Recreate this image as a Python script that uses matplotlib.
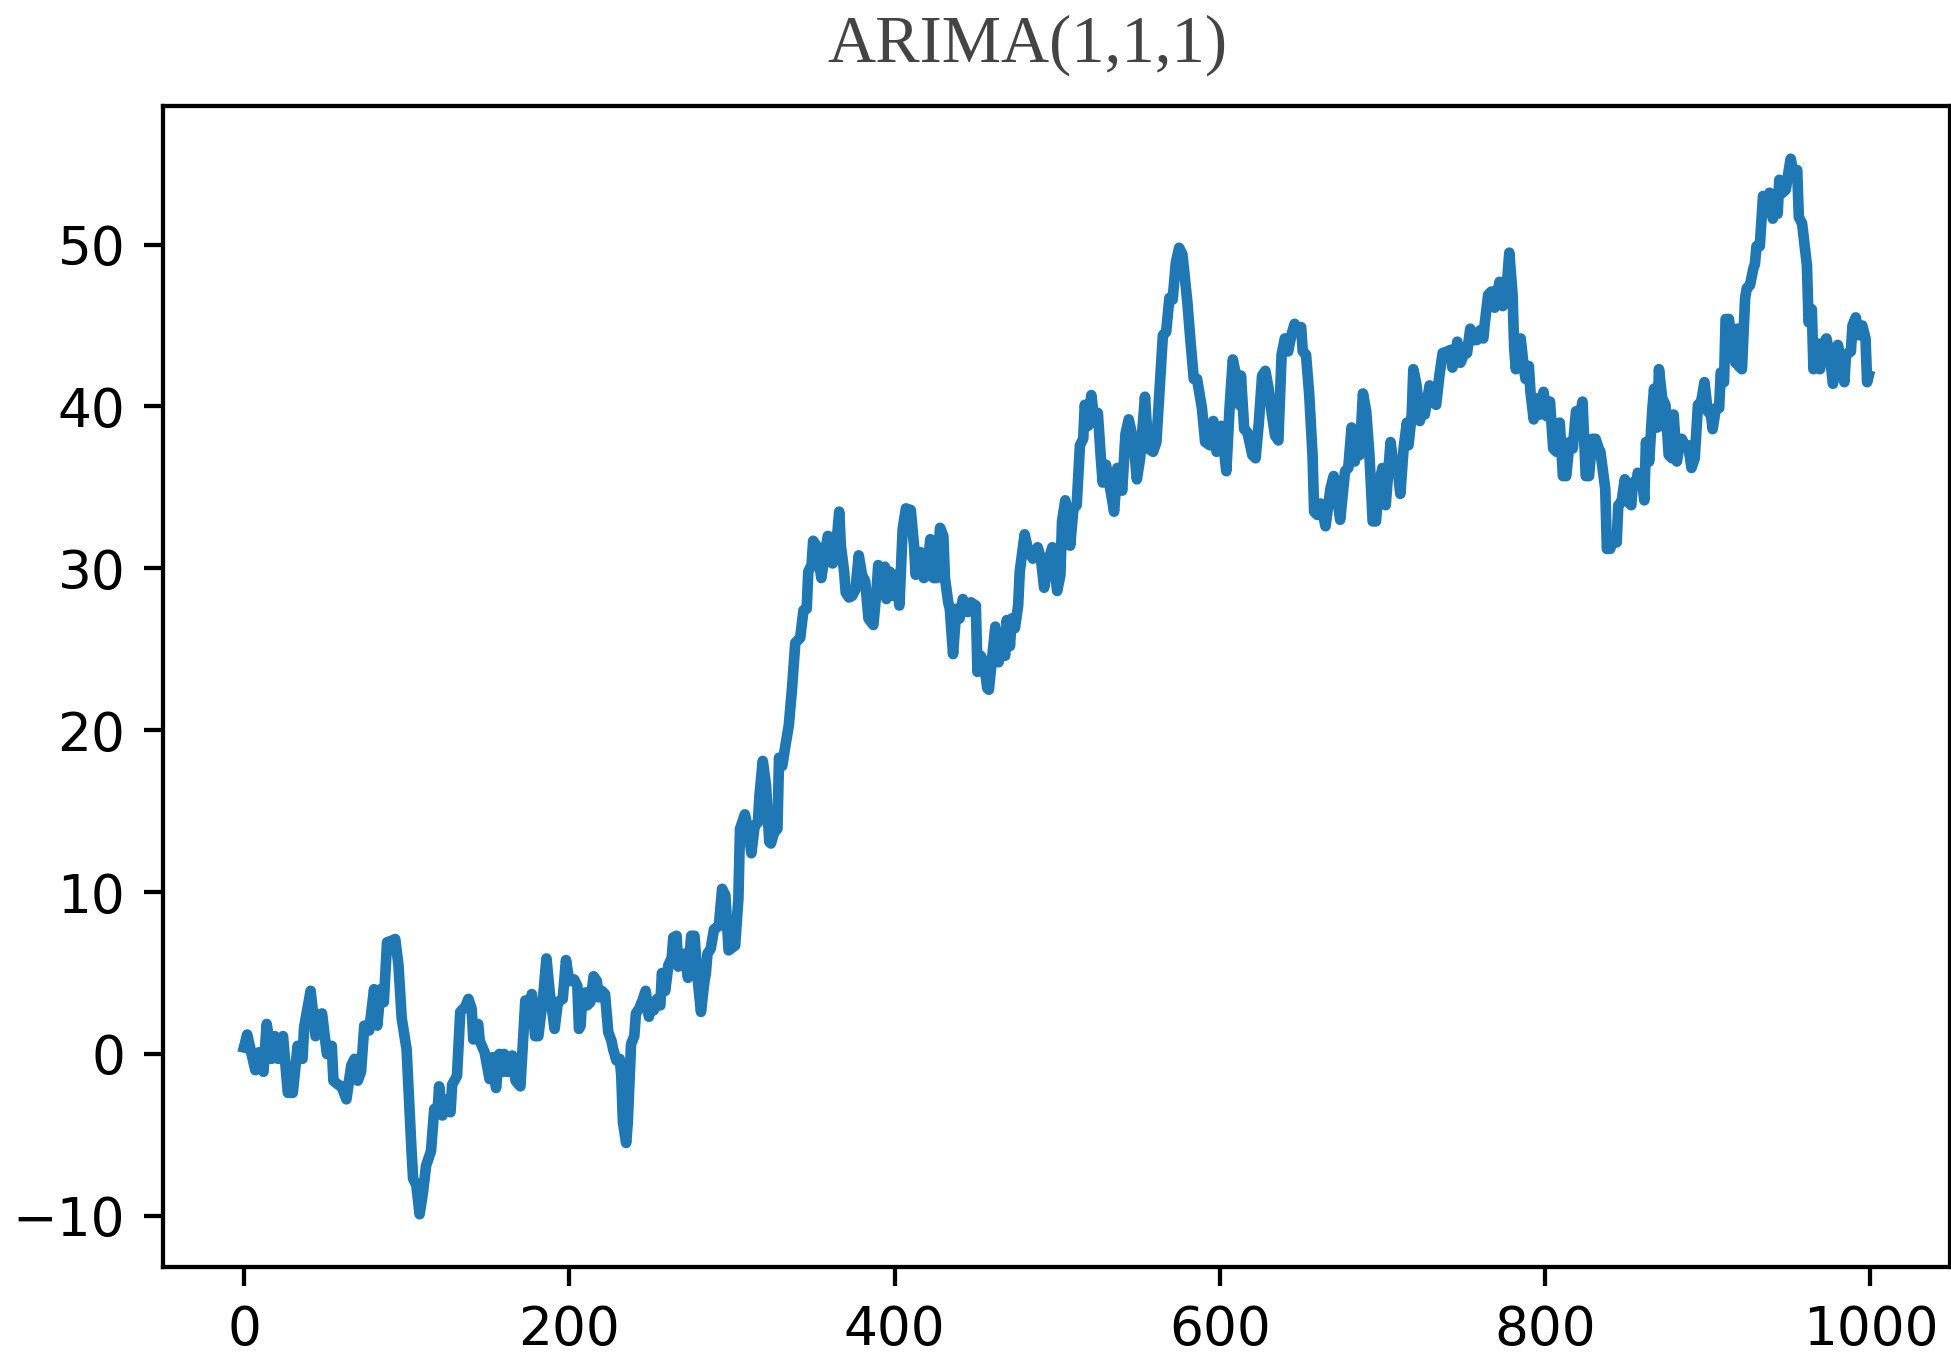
import matplotlib
matplotlib.use('Agg')
import matplotlib.pyplot as plt

# ARIMA(1,1,1) simulated path (irregular sampling)
t_a = [0, 2, 4, 7, 9, 12, 14, 17, 19, 21, 24, 27, 30, 33, 36, 37, 41, 44, 46, 48,
       51, 54, 55, 58, 60, 63, 66, 68, 70, 72, 74, 77, 78, 80, 82, 84, 86, 88, 91, 93,
       95, 97, 100, 103, 104, 106, 108, 110, 112, 115, 117, 119, 120, 122, 124, 127,
       128, 131, 133, 136, 138, 140, 141, 144, 145, 148, 151, 153, 155, 157, 159, 160,
       162, 165, 167, 170, 172, 173, 175, 177, 179, 181, 184, 186, 188, 191, 193, 196]
y_a = [0.4, 1.2, 0.3, -1.0, 0.1, -1.1, 1.85, -0.3, 1.1, -0.3, 1.1, -2.4, -2.4, 0.5,
       -0.3, 1.65, 3.9, 1.1, 2.4, 2.5, 0.0, 0.5, -1.65, -1.9, -2.0, -2.8, -0.7, -0.3,
       -1.65, -1.1, 1.75, 1.45, 2.3, 4.0, 1.75, 4.0, 3.2, 6.9, 7.0, 7.1, 5.5, 2.2, 0.3,
       -5.9, -7.7, -8.1, -9.9, -8.6, -6.9, -6.0, -3.4, -3.6, -2.0, -3.8, -2.8, -3.6,
       -1.9, -1.35, 2.6, 2.9, 3.4, 2.8, 0.9, 1.85, 0.8, 0.1, -1.55, -0.2, -2.1, 0.0,
       -1.1, 0.0, -1.1, -0.1, -1.65, -2.0, 1.55, 3.3, 2.2, 3.7, 1.1, 1.1, 3.6, 5.9,
       3.8, 1.55, 3.2, 3.4]

t_b = [198, 200, 203, 205, 206, 207, 208, 210, 211, 213, 215, 217, 218, 220, 222,
       224, 226, 227, 229, 231, 232, 233, 235, 236, 238, 240, 241, 243, 245, 247, 249,
       250, 252, 254, 256, 257, 259, 261, 263, 264, 266, 267, 269, 271, 273, 275, 277,
       279, 281, 283, 284, 285, 287, 289, 292, 294, 296, 298, 302, 304, 305, 308, 310,
       312, 314, 316, 317, 319, 321, 323, 324, 326, 328, 329, 331, 333, 335, 337, 339,
       342, 344, 346, 347, 349, 350, 352, 353, 355, 357, 359, 361, 362, 364, 366, 367,
       369, 370, 372, 374, 376, 378, 380, 382, 384, 387, 389, 390, 392, 394, 395, 397,
       399]
y_b = [5.8, 4.5, 4.6, 4.2, 1.55, 1.75, 3.6, 3.8, 3.0, 3.2, 4.8, 4.5, 3.5, 3.9, 3.7,
       1.35, 0.8, 0.3, -0.4, -0.3, -1.3, -4.2, -5.5, -4.2, 0.6, 1.1, 2.5, 2.8, 3.3, 3.9,
       2.3, 3.2, 2.7, 3.4, 3.0, 5.0, 3.9, 5.5, 5.9, 7.2, 7.3, 5.4, 5.9, 6.2, 4.7, 7.3,
       7.3, 4.6, 2.6, 4.4, 5.0, 6.2, 6.5, 7.7, 7.9, 10.2, 9.8, 6.4, 6.7, 9.6, 13.9, 14.8,
       13.9, 12.4, 14.1, 14.3, 16.0, 18.1, 16.6, 13.1, 13.0, 13.7, 13.9, 18.3, 17.8,
       19.1, 20.3, 22.6, 25.4, 25.7, 27.4, 27.5, 29.8, 30.2, 31.7, 31.4, 30.8, 29.4,
       30.8, 32.0, 31.9, 30.3, 31.2, 33.5, 31.4, 29.8, 28.5, 28.2, 28.3, 28.7, 30.8,
       29.6, 29.2, 26.9, 26.5, 28.7, 30.2, 29.2, 30.1, 28.1, 29.8, 28.3]

t_c = [401, 403, 405, 407, 410, 412, 413, 416, 418, 420, 422, 424, 426, 428, 430, 431,
       433, 434, 436, 438, 440, 442, 445, 447, 450, 451, 453, 455, 457, 458, 462, 464,
       466, 468, 469, 471, 472, 474, 476, 477, 480, 482, 485, 488, 490, 492, 495, 497,
       500, 502, 503, 505, 508, 510, 512, 514, 516, 517, 519, 521, 523, 525, 527, 528,
       530, 532, 535, 537, 540, 542, 544, 547, 549, 551, 554, 556, 559, 561, 563, 565,
       567, 569, 571, 573, 575, 577, 580, 582, 584, 586, 589, 591, 594, 596, 598]
y_c = [29.6, 27.7, 32.4, 33.7, 33.6, 31.4, 29.6, 31.0, 29.4, 29.6, 31.8, 29.4, 29.4,
       32.5, 32.0, 29.4, 27.9, 27.5, 24.7, 27.5, 26.9, 28.1, 27.3, 27.9, 27.7, 23.6,
       24.6, 24.2, 22.6, 22.5, 26.4, 24.2, 25.5, 24.6, 26.8, 25.2, 26.9, 26.3, 27.7,
       29.8, 32.1, 31.2, 30.6, 31.3, 30.6, 28.8, 30.6, 31.3, 28.6, 29.6, 32.9, 34.2,
       31.4, 33.7, 33.9, 37.6, 38.0, 40.1, 38.8, 40.7, 39.0, 39.6, 36.6, 35.3, 36.4,
       35.3, 33.5, 36.2, 34.8, 38.3, 39.2, 37.8, 35.5, 36.8, 40.6, 37.4, 37.2, 37.8,
       41.1, 44.4, 44.6, 46.7, 46.6, 48.9, 49.8, 49.4, 46.5, 44.0, 41.7, 41.7, 39.9,
       37.8, 37.6, 39.1, 37.2]

t_d = [600, 601, 604, 606, 608, 610, 612, 613, 615, 617, 620, 622, 624, 626, 628, 630,
       632, 634, 636, 638, 640, 642, 644, 646, 648, 650, 651, 653, 655, 657, 658, 660,
       662, 665, 668, 670, 672, 674, 677, 679, 681, 683, 685, 686, 688, 690, 692, 694,
       696, 698, 700, 702, 705, 707, 709, 711, 713, 715, 716, 718, 719, 721, 723, 725,
       726, 729, 731, 733, 735, 737, 740, 742, 743, 745, 746, 748, 750, 752, 754, 756,
       758, 760, 762, 763, 765, 767, 769, 772, 774, 776, 778, 780, 781, 782, 785, 787,
       788, 790, 791, 793, 795, 797, 799]
y_d = [38.0, 38.8, 36.0, 39.9, 42.9, 41.9, 40.1, 41.9, 38.6, 38.4, 37.0, 36.8, 39.0,
       41.9, 42.2, 41.1, 39.5, 38.2, 37.9, 43.2, 44.2, 43.4, 44.4, 45.1, 44.8, 44.9,
       43.4, 43.2, 40.7, 37.0, 33.5, 33.3, 34.0, 32.6, 34.9, 35.7, 34.5, 33.0, 36.0,
       36.2, 38.7, 36.6, 38.0, 37.0, 40.8, 39.7, 37.0, 32.9, 32.9, 35.3, 36.2, 33.9,
       37.8, 36.2, 36.4, 34.6, 37.4, 39.0, 37.6, 39.5, 42.3, 41.3, 39.1, 40.5, 39.5,
       41.3, 40.3, 40.1, 41.9, 43.3, 43.4, 43.5, 42.4, 43.0, 44.0, 42.7, 43.2, 43.3,
       44.8, 44.1, 44.1, 44.7, 44.2, 45.2, 46.9, 47.1, 46.1, 47.7, 46.2, 46.9, 49.5,
       46.9, 43.6, 42.3, 44.2, 42.3, 41.7, 42.5, 40.9, 39.2, 40.5, 39.5, 40.9]

t_e = [801, 803, 805, 807, 809, 811, 813, 815, 817, 819, 821, 823, 825, 827, 829, 831,
       833, 834, 837, 838, 840, 842, 844, 845, 847, 849, 851, 853, 854, 856, 857, 860,
       861, 862, 864, 866, 867, 869, 870, 872, 874, 876, 878, 879, 881, 883, 884, 886,
       888, 890, 892, 894, 896, 898, 900, 902, 903, 905, 907, 908, 910, 911, 913, 915,
       917, 918, 919, 921, 923, 924, 926, 928, 929, 930, 932, 934, 936, 938, 940, 942,
       943, 944, 946, 948, 950, 951, 953, 955, 956, 958, 961, 962, 964, 965, 967, 969,
       971, 973, 975, 977, 980, 982, 984, 985, 988, 989, 991, 993, 995, 997, 998, 999]
y_e = [39.4, 40.3, 37.4, 37.2, 39.0, 35.7, 35.7, 37.8, 37.4, 39.7, 39.2, 40.3, 35.7,
       35.7, 38.0, 38.0, 37.4, 37.2, 34.9, 31.2, 31.2, 31.8, 31.6, 33.9, 34.1, 35.5,
       34.1, 33.9, 35.3, 35.3, 35.9, 35.1, 34.2, 37.8, 36.6, 39.9, 41.1, 38.7, 42.3,
       40.5, 40.1, 37.0, 36.8, 39.5, 36.6, 37.8, 38.0, 37.6, 37.6, 36.2, 36.8, 40.1,
       40.3, 41.5, 39.7, 39.5, 38.6, 39.9, 39.9, 42.1, 41.5, 45.4, 45.4, 43.8, 42.7,
       44.8, 42.5, 42.3, 46.7, 47.3, 47.5, 48.5, 48.8, 49.9, 49.9, 53.0, 52.4, 53.2,
       51.6, 52.6, 51.9, 54.0, 53.2, 53.4, 54.7, 55.3, 54.3, 54.6, 51.7, 51.3, 48.7,
       45.2, 46.0, 42.3, 43.9, 42.3, 43.9, 44.2, 43.2, 41.4, 43.8, 42.9, 41.5, 43.2,
       43.4, 45.0, 45.5, 44.4, 45.0, 44.2, 41.5, 41.9]

t = t_a + t_b + t_c + t_d + t_e
y = y_a + y_b + y_c + y_d + y_e

W, H, DPI = 1951, 1354, 384
fig = plt.figure(figsize=(W / DPI, H / DPI), dpi=DPI)
ax = fig.add_axes([162.7 / W, 1 - 1267 / H, (1950 - 162.7) / W, (1267 - 106) / H])
ax.plot(t, y, color='#1f77b4', lw=2.0)
ax.set_xticks([0, 200, 400, 600, 800, 1000])
ax.set_yticks([-10, 0, 10, 20, 30, 40, 50])
ax.tick_params(labelsize=10)

fig.text(1027 / W, 1 - 62 / H, 'ARIMA(1,1,1)', ha='center', va='baseline',
         fontsize=12.5, color='#444444', family='Liberation Serif')

fig.savefig('out.png', dpi=DPI)
